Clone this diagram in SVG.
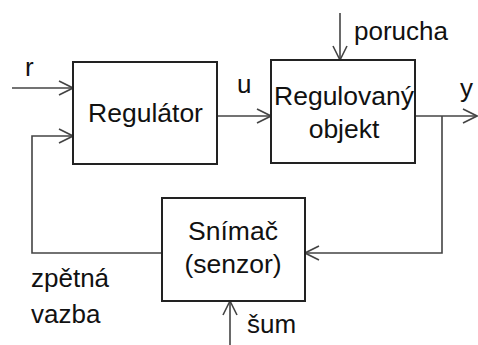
<svg xmlns="http://www.w3.org/2000/svg" width="478" height="345" viewBox="0 0 478 345">
<defs>
<style>
.box{fill:#fff;stroke:#222;stroke-width:2}
.ln{fill:none;stroke:#444;stroke-width:1.6}
.t{font-family:"Liberation Sans",Arial,sans-serif;font-size:26px;fill:#111}
.tb{font-family:"Liberation Sans",Arial,sans-serif;font-size:26.5px;fill:#111;text-anchor:middle}
</style>
<marker id="ah" viewBox="0 0 16 16" refX="15" refY="8" markerWidth="16" markerHeight="16" markerUnits="userSpaceOnUse" orient="auto">
<path d="M1,1 L15,8 L1,15" fill="none" stroke="#444" stroke-width="1.6"/>
</marker>
</defs>
<rect width="478" height="345" fill="#fff"/>
<g id="connectors">
<line class="ln" x1="12" y1="88" x2="73" y2="88" marker-end="url(#ah)"/>
<polyline class="ln" points="162,253 32,253 32,136 73,136" marker-end="url(#ah)"/>
<line class="ln" x1="217" y1="116" x2="271" y2="116" marker-end="url(#ah)"/>
<line class="ln" x1="340" y1="13" x2="340" y2="60" marker-end="url(#ah)"/>
<line class="ln" x1="415" y1="116" x2="477" y2="116" marker-end="url(#ah)"/>
<polyline class="ln" points="442,116 442,253 305,253" marker-end="url(#ah)"/>
<line class="ln" x1="230" y1="345" x2="230" y2="301" marker-end="url(#ah)"/>
</g>
<g id="regulator">
<rect class="box" x="73" y="62" width="144" height="102"/>
<text class="tb" x="145.5" y="122">Regulátor</text>
</g>
<g id="objekt">
<rect class="box" x="271" y="60" width="144" height="103"/>
<text class="tb" x="344" y="105">Regulovaný</text>
<text class="tb" x="344" y="138">objekt</text>
</g>
<g id="snimac">
<rect class="box" x="162" y="198" width="143" height="103"/>
<text class="tb" x="233" y="240">Snímač</text>
<text class="tb" x="233" y="273">(senzor)</text>
</g>
<g id="labels">
<text class="t" x="25" y="76">r</text>
<text class="t" x="237" y="93">u</text>
<text class="t" x="354" y="40">porucha</text>
<text class="t" x="460" y="97">y</text>
<text class="t" x="31" y="287">zpětná</text>
<text class="t" x="31" y="323">vazba</text>
<text class="t" x="247" y="333">šum</text>
</g>
</svg>
